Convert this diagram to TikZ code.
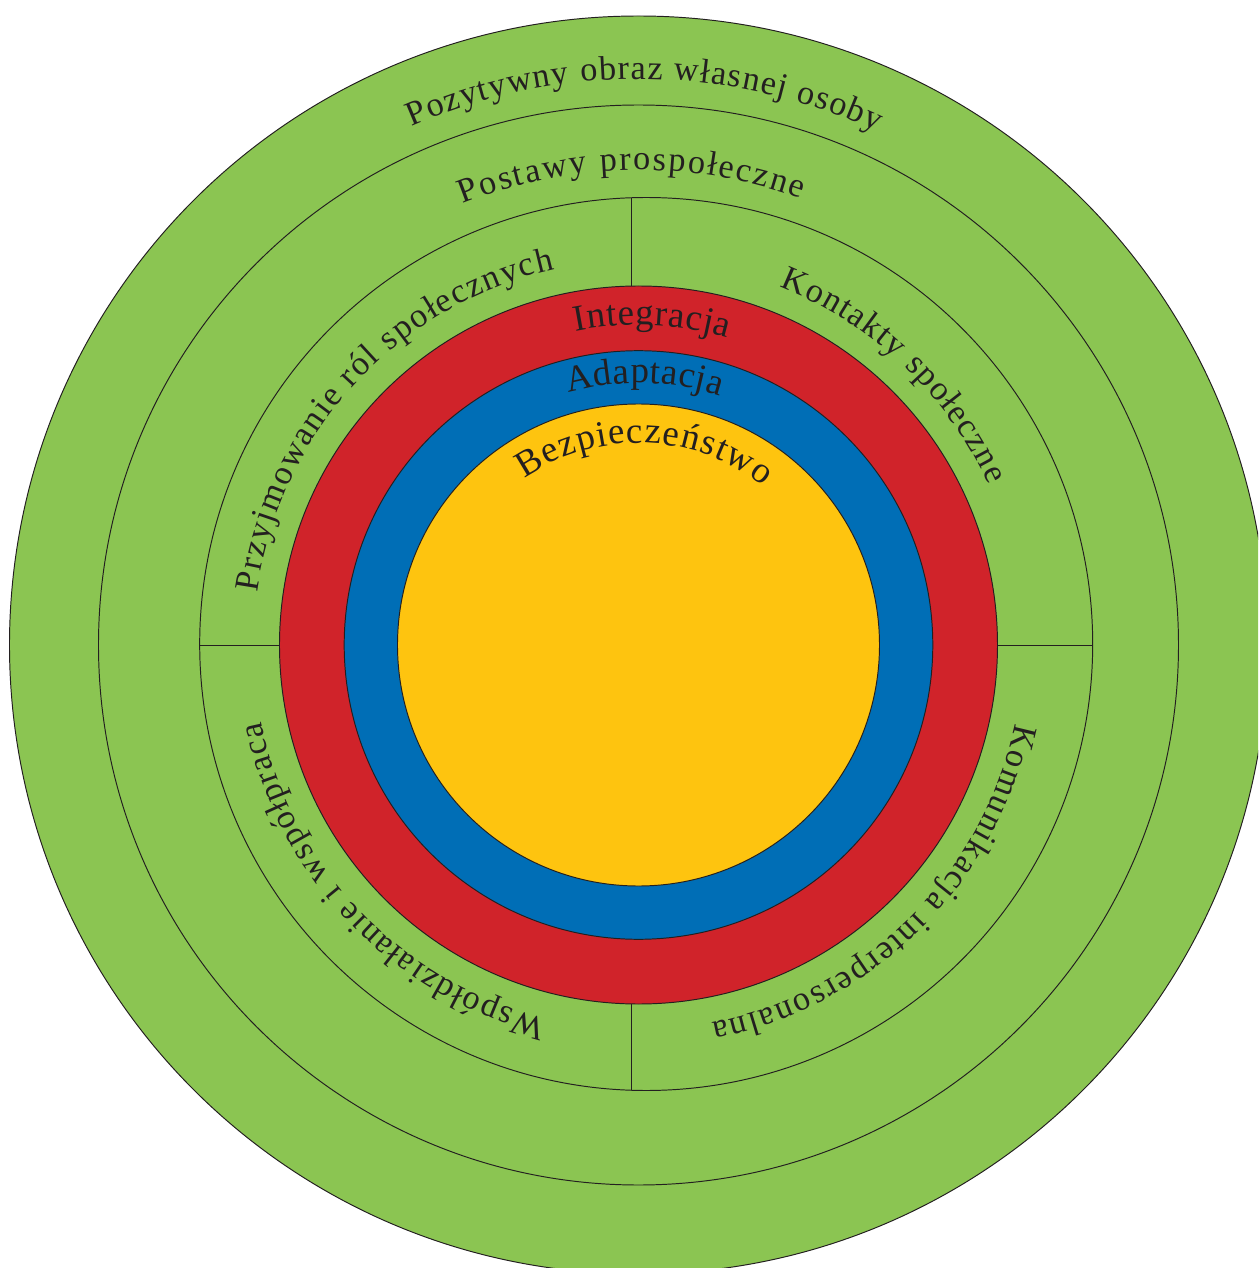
\documentclass[tikz,border=0pt]{standalone}
\usepackage{fontspec}
\setmainfont{Liberation Serif}
\usetikzlibrary{decorations.text}
\definecolor{ringgreen}{HTML}{8BC552}
\definecolor{ringred}{HTML}{D0232A}
\definecolor{ringblue}{HTML}{006EB6}
\definecolor{ringyellow}{HTML}{FEC40F}
\definecolor{ink}{HTML}{231F20}
\newcommand{\outerfont}{\fontsize{19.5}{23}\selectfont}
\newcommand{\innerfont}{\fontsize{21}{25}\selectfont}
\tikzset{
  ringline/.style={draw=ink, line width=0.55pt},
  dividerline/.style={draw=ink, line width=0.55pt},
}
\begin{document}
\begin{tikzpicture}[x=0.02cm,y=0.02cm]
\useasboundingbox (-638.5,-623) rectangle (619.5,645);
\clip (-638.5,-623) rectangle (619.5,645);
% rings
\fill[ringgreen] (0,0) circle (629);
\draw[ringline] (0,0) circle (629);
\draw[ringline] (0,0) circle (540);
\coordinate (qc) at (7.7,1);
\draw[ringline] (qc) circle (446.5);
% dividers
\coordinate (dTa) at (-7.5,358.9);
\coordinate (dTb) at (-7.5,447.2);
\coordinate (dBa) at (-7.5,-358.9);
\coordinate (dBb) at (-7.5,-445.2);
\coordinate (dLa) at (-359,0);
\coordinate (dLb) at (-438.8,0);
\coordinate (dRa) at (359,0);
\coordinate (dRb) at (454.2,0);
\draw[dividerline] (dTa) -- (dTb);
\draw[dividerline] (dBa) -- (dBb);
\draw[dividerline] (dLa) -- (dLb);
\draw[dividerline] (dRa) -- (dRb);
% inner discs
\filldraw[fill=ringred, ringline] (0,0) circle (359);
\filldraw[fill=ringblue, ringline] (0,0) circle (294.3);
\filldraw[fill=ringyellow, ringline] (0,0) circle (241);
% labels
\path[decorate, decoration={text along path, text align=fit to path, text color=ink,
  text={|\outerfont|Pozytywny obraz własnej osoby}}]
  (113.65:566) arc[start angle=113.65, end angle=65.1, radius=566];
\path[decorate, decoration={text along path, text align=fit to path, text color=ink,
  text={|\outerfont|Postawy prospołeczne}}]
  (111.7:475) arc[start angle=111.7, end angle=70.0, radius=475];
\path[decorate, decoration={text along path, text align=fit to path, text color=ink,
  text={|\outerfont|Przyjmowanie ról społecznych}}]
  (172.1:385) arc[start angle=172.1, end angle=102.6, radius=385];
\path[decorate, decoration={text along path, text align=fit to path, text color=ink,
  text={|\outerfont|Kontakty społeczne}}]
  (68.5:385) arc[start angle=68.5, end angle=24.6, radius=385];
\path[decorate, decoration={text along path, text align=fit to path, text color=ink,
  text={|\outerfont|Komunikacja interpersonalna}}]
  (-11.7:385) arc[start angle=-11.7, end angle=-79, radius=385];
\path[decorate, decoration={text along path, text align=fit to path, text color=ink,
  text={|\outerfont|Współdziałanie i współpraca}}]
  (256.2:385) arc[start angle=256.2, end angle=191.5, radius=385];
\path[decorate, decoration={text along path, text align=fit to path, text color=ink,
  text={|\innerfont|Integracja}}]
  (101.4:320) arc[start angle=101.4, end angle=73.8, radius=320];
\path[decorate, decoration={text along path, text align=fit to path, text color=ink,
  text={|\innerfont|Adaptacja}}]
  (105.5:262) arc[start angle=105.5, end angle=71.9, radius=262];
\path[decorate, decoration={text along path, text align=fit to path, text color=ink,
  text={|\innerfont|Bezpieczeństwo}}]
  (124.4:202) arc[start angle=124.4, end angle=52, radius=202];
\end{tikzpicture}
\end{document}
